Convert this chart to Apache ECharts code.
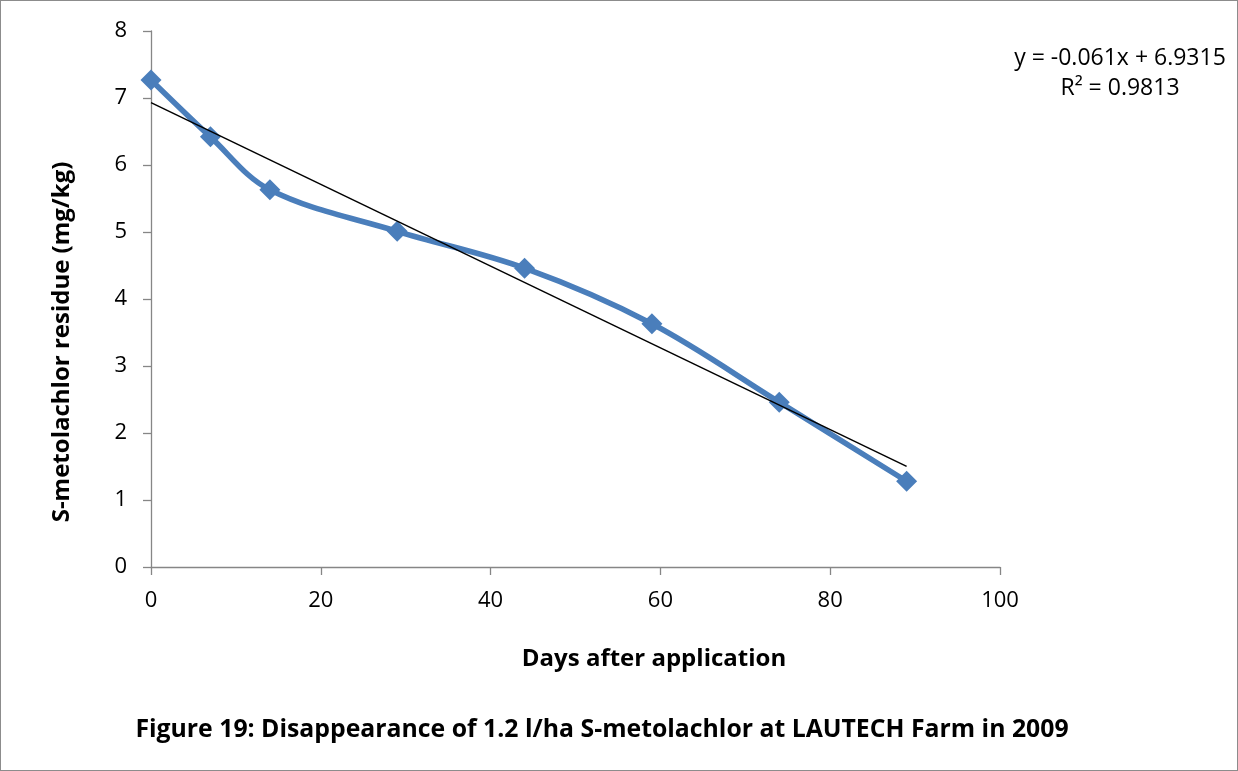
<!DOCTYPE html>
<html>
<head>
<meta charset="utf-8">
<script src="https://cdn.jsdelivr.net/npm/echarts@6/dist/echarts.min.js"></script>
<style>
  html, body { margin: 0; padding: 0; background: #fff; }
  #frame { position: absolute; left: 0; top: 0; width: 1236px; height: 769px; border: 1px solid #8c8c8c; }
  #chart { position: absolute; left: 0; top: 0; width: 1238px; height: 771px; }
</style>
</head>
<body>
<div id="frame"></div>
<div id="chart"></div>
<script>
// Residue measurements (mg/kg) by day after application
const days = [0, 7, 14, 29, 44, 59, 74, 89];
const residue = [7.27, 6.42, 5.63, 5.01, 4.46, 3.63, 2.46, 1.28];

// Linear trend reported for the series
const trendSlope = -0.061;
const trendIntercept = 6.9315;
const trendR2 = 0.9813;

const xTicks = [0, 20, 40, 60, 80, 100];
const yTicks = [0, 1, 2, 3, 4, 5, 6, 7, 8];

const FONT = '"Open Sans", "DejaVu Sans", sans-serif';

const points = days.map((d, i) => [d, residue[i]]);
const xFirst = days[0], xLast = days[days.length - 1];
const trendPoints = [
  [xFirst, trendIntercept + trendSlope * xFirst],
  [xLast, trendIntercept + trendSlope * xLast]
];

const chart = echarts.init(document.getElementById('chart'), null, { renderer: 'canvas' });
chart.setOption({
  animation: false,
  backgroundColor: 'transparent',
  grid: { left: 151, right: 238, top: 31, bottom: 204, containLabel: false },
  xAxis: {
    type: 'value',
    min: xTicks[0], max: xTicks[xTicks.length - 1], interval: 20,
    axisLine: { show: true, lineStyle: { color: '#868686', width: 1.3 } },
    axisTick: { show: true, length: 8, lineStyle: { color: '#868686', width: 1.3 } },
    axisLabel: { fontFamily: FONT, fontSize: 22, color: '#000', margin: 23 },
    splitLine: { show: false }
  },
  yAxis: {
    type: 'value',
    min: yTicks[0], max: yTicks[yTicks.length - 1], interval: 1,
    axisLine: { show: true, lineStyle: { color: '#868686', width: 1.3 } },
    axisTick: { show: true, inside: false, length: 8, lineStyle: { color: '#868686', width: 1.3 } },
    axisLabel: { fontFamily: FONT, fontSize: 22, color: '#000', margin: 24 },
    splitLine: { show: false }
  },
  series: [
    {
      type: 'line',
      data: points,
      smooth: 0.35,
      symbol: 'diamond',
      symbolSize: 21,
      lineStyle: { color: '#4a7ebb', width: 5.5 },
      itemStyle: { color: '#4a7ebb' },
      z: 2
    },
    {
      type: 'line',
      data: trendPoints,
      symbol: 'none',
      lineStyle: { color: '#000', width: 1.5 },
      z: 3
    }
  ],
  graphic: [
    {
      type: 'text', x: 1120, y: 58,
      style: { text: 'y = -0.061x + 6.9315', fontFamily: FONT, fontSize: 23, fill: '#000', align: 'center', verticalAlign: 'middle' }
    },
    {
      type: 'text', x: 1120, y: 88,
      style: { text: 'R² = ' + trendR2, fontFamily: FONT, fontSize: 23, fill: '#000', align: 'center', verticalAlign: 'middle' }
    },
    {
      type: 'text', x: 654, y: 659,
      style: { text: 'Days after application', fontFamily: FONT, fontWeight: 'bold', fontSize: 24, fill: '#000', align: 'center', verticalAlign: 'middle' }
    },
    {
      type: 'text', x: 62, y: 342, rotation: Math.PI / 2,
      style: { text: 'S-metolachlor residue (mg/kg)', fontFamily: FONT, fontWeight: 'bold', fontSize: 24, fill: '#000', align: 'center', verticalAlign: 'middle' }
    },
    {
      type: 'text', x: 602, y: 730,
      style: { text: 'Figure 19: Disappearance of 1.2 l/ha S-metolachlor at LAUTECH Farm in 2009', fontFamily: FONT, fontWeight: 'bold', fontSize: 24.8, fill: '#000', align: 'center', verticalAlign: 'middle' }
    }
  ]
});
</script>
</body>
</html>
